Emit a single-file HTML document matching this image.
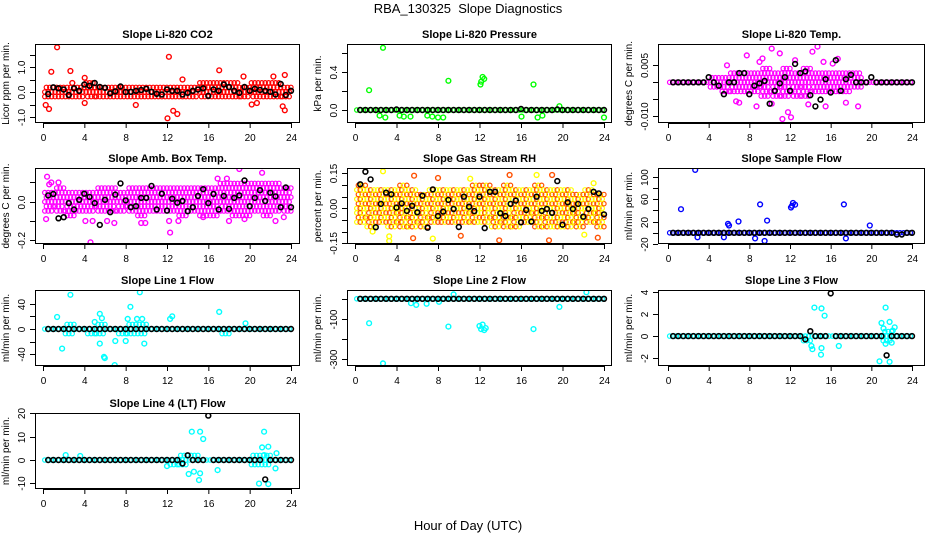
<!DOCTYPE html>
<html><head><meta charset="utf-8"><title>RBA_130325 Slope Diagnostics</title>
<style>
html,body{margin:0;padding:0;background:#fff;}
svg{display:block;font-family:"Liberation Sans",Arial,sans-serif;}
</style></head>
<body>
<svg id="chart" width="936" height="540" viewBox="0 0 936 540" xmlns="http://www.w3.org/2000/svg">
<rect width="936" height="540" fill="#fff"/>
<text x="468" y="13" font-size="13" text-anchor="middle">RBA_130325&#160; Slope Diagnostics</text>
<text x="468" y="530" font-size="13" text-anchor="middle">Hour of Day (UTC)</text>
<g id="panels"></g>
</svg>
<script>
// ---------- data ----------
const xTicks = [0,4,8,12,16,20,24];
const meanHours = Array.from({length:48},(_,i)=>0.5*(i+1));

const co2Mean = [-0.08,0.19,0.15,0.1,-0.12,0.15,0.05,0.3,0.25,0.36,0.2,0.17,-0.05,0.03,0.22,0.0,0.01,0.05,0.08,0.13,0.01,-0.07,-0.1,0.1,0.05,0.05,-0.1,-0.03,0.05,0.1,0.15,-0.15,0.1,0.05,0.3,0.2,0.05,-0.03,0.2,0.05,0.13,0.08,0.05,0.01,-0.1,0.32,-0.12,0.05];
const co2BandHi = [0.3,0.35,0.3,0.35,0.4,0.3,0.3,0.3,0.35,0.35,0.3,0.3,0.35,0.35,0.3,0.45,0.4,0.45,0.4,0.35,0.45,0.45,0.4,0.35];
const co2BandLo = [-0.3,-0.3,-0.35,-0.3,-0.3,-0.3,-0.3,-0.3,-0.3,-0.3,-0.3,-0.3,-0.35,-0.3,-0.3,-0.3,-0.3,-0.3,-0.3,-0.3,-0.3,-0.3,-0.3,-0.35];
const co2OutT = [1.36,0.8,0.26,0.58,2.65,2.84,4.04,4.04,8.98,12.18,12.05,12.6,13.0,13.5,17.05,19.4,20.2,20.7,22.3,23.4,23.4,23.2];
const co2OutV = [1.79,0.81,-0.52,-0.68,0.84,0.36,0.57,-0.44,-0.52,1.41,-1.05,-0.75,-0.88,0.5,0.87,0.62,-0.5,-0.44,0.62,0.68,-0.73,-0.57];

const pressMean = [0,0,0,0,0,0,0,0.005,0,0,0,0,0,0,0,0,0,0,0,0,0,0,0,0,0,0,0,0,0,0,0,0.01,0,0,0,0,0,0,0.005,0,0,0,0,0,0,0,0,0];
const pressBandHi = [0.02,0.02,0.02,0.02,0.02,0.02,0.02,0.02,0.02,0.02,0.02,0.02,0.02,0.02,0.02,0.02,0.02,0.02,0.02,0.03,0.02,0.02,0.02,0.02];
const pressBandLo = [-0.02,-0.02,-0.03,-0.02,-0.03,-0.03,-0.02,-0.03,-0.02,-0.02,-0.02,-0.02,-0.02,-0.02,-0.02,-0.02,-0.02,-0.03,-0.02,-0.02,-0.02,-0.02,-0.02,-0.02];
const pressOutT = [2.7,1.36,9.0,12.16,12.3,12.45,12.1,17.2,19.7,2.37,2.92,4.3,4.7,5.35,6.97,7.45,8.0,8.5,16.05,17.6,18.06,24.0];
const pressOutV = [0.66,0.21,0.31,0.30,0.35,0.33,0.27,0.27,0.04,-0.06,-0.08,-0.06,-0.07,-0.07,-0.06,-0.07,-0.08,-0.08,-0.07,-0.08,-0.06,-0.08];

const tempMean = [0,0,0,0,0,0,0,0.0015,0,-0.001,-0.0035,0,0,0.0027,0.0027,-0.0035,-0.001,-0.0003,0.0004,-0.0063,-0.0025,-0.0003,0.0015,-0.0025,0.0054,0.0027,0.0032,-0.0038,-0.0071,-0.0051,0.0009,-0.003,0.0065,-0.0025,0.0009,0.0022,0,0,0,0.0015,0,0,0,0,0,0,0,0];
const tempBandHi = [0.0005,0.0008,0.001,0.001,0.002,0.0025,0.003,0.004,0.004,0.0045,0.004,0.005,0.004,0.0045,0.004,0.004,0.0035,0.003,0.003,0.001,0.001,0.0008,0.0006,0.0005];
const tempBandLo = [-0.0005,-0.001,-0.001,-0.0012,-0.002,-0.003,-0.003,-0.004,-0.004,-0.0045,-0.0045,-0.005,-0.0045,-0.0045,-0.004,-0.004,-0.0035,-0.003,-0.0025,-0.001,-0.001,-0.0008,-0.0006,-0.0005];
const tempOutT = [7.75,10.2,11.0,14.2,14.7,16.7,8.7,10.2,11.25,11.8,12.1,15.5,18.7,6.7,9.3,12.5,15.3,16.2,5.8,13.8,17.5,7.0,9.0];
const tempOutV = [0.0079,0.0099,0.0085,0.009,0.0105,0.0069,-0.0071,-0.0063,-0.0108,-0.0088,-0.0103,-0.0071,-0.0071,-0.0056,0.007,0.0065,0.006,0.0055,0.005,-0.0065,-0.006,-0.006,0.006];

const ambMean = [0.033,0.04,-0.086,-0.08,-0.007,-0.04,0.01,0.042,0.025,-0.007,-0.12,0.01,-0.054,0.037,0.095,0.007,-0.028,-0.023,0.02,0.02,0.082,-0.04,0.042,-0.046,0.016,-0.005,0.004,-0.049,-0.028,0.03,0.065,-0.007,0.04,-0.04,0.03,-0.037,0.02,0.033,0.11,-0.023,0.02,0.06,0.004,0.047,0.028,-0.028,0.074,-0.028];
const ambBandHi = [0.07,0.08,0.06,0.07,0.07,0.08,0.08,0.07,0.08,0.08,0.08,0.08,0.08,0.09,0.09,0.09,0.09,0.1,0.1,0.1,0.1,0.1,0.1,0.09];
const ambBandLo = [-0.06,-0.06,-0.08,-0.06,-0.07,-0.07,-0.07,-0.07,-0.07,-0.08,-0.07,-0.07,-0.07,-0.08,-0.07,-0.08,-0.08,-0.07,-0.08,-0.08,-0.07,-0.08,-0.07,-0.07];
const ambOutT = [0.4,0.6,0.8,1.5,0.3,4.6,4.8,6.2,6.9,9.5,9.9,12.3,12.2,13.1,16.9,17.8,18.0,19.5,21.2,22.5,23.3,15.5,4.1,19.0];
const ambOutV = [0.13,0.09,0.1,0.1,-0.09,-0.21,-0.1,-0.1,-0.11,-0.11,-0.11,-0.16,-0.1,-0.1,0.12,0.12,-0.1,-0.09,0.15,-0.1,-0.08,-0.08,-0.1,0.17];

const rhMean = [0.103,0.157,0.124,-0.081,0.019,0.067,0.06,0.003,0.021,-0.011,0.011,-0.017,0.054,-0.083,0.081,-0.033,-0.014,0.036,-0.003,-0.08,0.05,0.007,-0.012,0.05,-0.085,0.071,0.071,-0.021,-0.033,0.019,0.033,-0.06,-0.007,-0.057,0.05,-0.011,-0.003,-0.019,0.117,-0.07,0.026,-0.003,0.019,-0.036,-0.003,0.071,0.064,-0.026];
const rhBandHi = [0.1,0.09,0.08,0.09,0.1,0.08,0.07,0.09,0.08,0.08,0.08,0.1,0.1,0.08,0.1,0.09,0.08,0.1,0.09,0.08,0.09,0.07,0.09,0.07];
const rhBandLo = [-0.07,-0.08,-0.07,-0.08,-0.09,-0.08,-0.08,-0.06,-0.07,-0.07,-0.06,-0.07,-0.07,-0.09,-0.08,-0.08,-0.07,-0.08,-0.09,-0.08,-0.08,-0.09,-0.07,-0.08];
const rhOutT = [2.7,5.7,3.3,8.0,11.1,14.9,17.5,19.0,23.0,10.2,7.5,13.9,3.3,5.6,1.7,18.7,22.1,23.4];
const rhOutV = [0.159,0.14,-0.14,0.13,0.127,0.143,0.143,0.143,0.108,-0.118,-0.13,-0.137,-0.12,-0.128,-0.1,-0.137,-0.113,-0.126];

const sampleMean = [0,0,0,0,0,0,0,0,0,0,0,0,0,0,0,0,0,0,0,0,0,0,0,0,0,0,0,0,0,0,0,0,0,0,0,0,0,0,0,0,0,0,0,0,-3,-3,0,0];
const sampleBandHi = [3,4,5,4,6,7,6,5,5,6,4,3,3,3,3,3,3,3,3,3,3,3,4,3];
const sampleBandLo = [-2,-3,-8,-5,-8,-8,-5,-6,-8,-8,-4,-3,-3,-2,-2,-2,-2,-5,-6,-2,-2,-2,-3,-2];
const sampleOutT = [2.68,1.28,9.06,9.75,6.93,12.1,12.3,12.5,12.2,17.3,19.85,9.5,8.57,5.5,2.9,5.9,6.0,17.5];
const sampleOutV = [112,42,50.6,21.6,20,45,53,50,48,50.6,13,-14.7,-10,-8,-8,16,13,-10];

const line1Mean = new Array(48).fill(0);
const line1BandHi = [3,5,8,5,6,8,6,5,8,8,6,4,6,4,3,3,3,3,3,3,3,3,3,3];
const line1BandLo = [-3,-5,-8,-5,-8,-8,-6,-8,-8,-8,-5,-4,-3,-3,-3,-3,-3,-8,-5,-3,-3,-3,-3,-3];
const line1OutT = [2.65,9.37,6.94,5.98,5.9,5.5,1.85,5.5,1.36,5.7,8.46,9.8,7.0,8.0,12.3,12.5,17.05,19.6,5.0,8.2,9.1,9.6];
const line1OutV = [54,58,-57,-46,-44,-23,-31,24,19,17,35,-23,-19,-19,16,20,27,9,11,16,16,16];

const line2Mean = new Array(48).fill(0);
const line2BandHi = [5,5,5,5,5,8,5,5,8,8,5,5,5,5,5,5,5,5,5,5,5,8,8,5];
const line2BandLo = [-5,-5,-5,-5,-8,-8,-8,-8,-5,-8,-5,-5,-5,-5,-5,-5,-5,-5,-5,-5,-5,-8,-8,-5];
const line2OutT = [1.36,2.7,9.0,12.0,12.3,12.45,12.15,12.6,17.2,19.7,22.3,5.9,5.4,6.9,8.1,9.5];
const line2OutV = [-121,-320,-138,-135,-128,-155,-150,-145,-150,-40,32,-30,-22,-25,-15,22];

const line3Mean = [0,0,0,0,0,0,0,0,0,0,0,0,0,0,0,0,0,0,0,0,0,0,0,0,0,0,-0.3,0.45,0,0,0,3.9,0,0,0,0,0,0,0,0,0,0,-1.75,0,0,0,0,0];
const line3BandHi = [0.1,0.2,0.35,0.35,0.2,0.3,0.2,0.2,0.3,0.4,0.2,0.2,0.3,0.4,0.3,0.3,0.4,0.4,0.2,0.2,0.4,0.6,0.4,0.1];
const line3BandLo = [-0.1,-0.2,-0.2,-0.2,-0.2,-0.3,-0.3,-0.2,-0.2,-0.2,-0.2,-0.2,-0.4,-0.6,-0.3,-0.2,-0.4,-0.3,-0.2,-0.2,-0.3,-0.6,-0.4,-0.1];
const line3OutT = [14.4,15.1,15.4,14.1,14.2,15.05,15.1,16.8,20.8,21.8,21.4,21.8,21.0,21.2,21.4,22.1,22.3,22.0];
const line3OutV = [2.6,2.53,1.86,-0.9,-1.2,-1.7,-1.1,-0.9,-2.3,-2.35,2.6,1.3,1.2,0.7,-0.7,0.5,0.8,-0.6];

const line4Mean = [0,0,0,0,0,0,0,0,0,0,0,0,0,0,0,0,0,0,0,0,0,0,0,0,0,0,-1.5,2,0,0,0,19,0,0,0,0,0,0,0,0,0,0,-8.3,0,0,0,0,0];
const line4BandHi = [0.5,0.5,1,0.5,0.8,0.5,0.5,0.5,0.5,0.5,0.5,0.5,1,2,2,1.5,1.5,1.5,0.5,0.5,2,2,1.5,0.5];
const line4BandLo = [-0.5,-0.5,-1,-1,-1,-0.5,-0.5,-0.5,-0.5,-0.5,-0.5,-0.5,-2,-2,-1.5,-1.5,-1.5,-1,-0.5,-1,-2,-2,-1.5,-0.5];
const line4OutT = [14.4,15.2,15.5,14.1,14.6,15.1,15.2,16.9,20.9,21.8,21.4,21.2,21.8,21.4,22.6,22.5,12.0,2.2,3.6];
const line4OutV = [12.1,12.1,9,-6,-5,-8.6,-5.7,-4.3,-10.1,-10.3,12.1,5.4,5.7,2.1,2.9,-3.6,-2.6,2.1,1.7];

// ---------- layout ----------
const cols = [{l:35,r:300,x0:43,x24:291,tl:25,yl:9},{l:347,r:612,x0:355,x24:604,tl:337,yl:321},{l:658,r:925,x0:668,x24:912,tl:648,yl:632}];
const rows = [{t:44,b:123},{t:168,b:244},{t:290,b:366},{t:413,b:489}];

const panels = [
 {name:'co2',title:'Slope Li-820 CO2',ylab:'Licor ppm per min.',c:0,r:0,ylim:[-1.24,1.92],ticks:[-1,-0.5,0,0.5,1,1.5],labels:{'-1':'-1.0','0':'0.0','1':'1.0'},color:'#ff0000',mean:co2Mean,hi:co2BandHi,lo:co2BandLo,ot:co2OutT,ov:co2OutV},
 {name:'pressure',title:'Slope Li-820 Pressure',ylab:'kPa per min.',c:1,r:0,ylim:[-0.138,0.70],ticks:[0,0.2,0.4,0.6],labels:{'0':'0.0','0.4':'0.4'},color:'#00ff00',mean:pressMean,hi:pressBandHi,lo:pressBandLo,ot:pressOutT,ov:pressOutV},
 {name:'temp',title:'Slope Li-820 Temp.',ylab:'degrees C per min.',c:2,r:0,ylim:[-0.01197,0.01126],ticks:[-0.01,-0.005,0,0.005],labels:{'-0.01':'-0.010','0.005':'0.005'},color:'#ff00ff',mean:tempMean,hi:tempBandHi,lo:tempBandLo,ot:tempOutT,ov:tempOutV},
 {name:'amb-box-temp',title:'Slope Amb. Box Temp.',ylab:'degrees C per min.',c:0,r:1,ylim:[-0.219,0.175],ticks:[-0.2,-0.1,0,0.1],labels:{'-0.2':'-0.2','0':'0.0'},color:'#ff00ff',mean:ambMean,hi:ambBandHi,lo:ambBandLo,ot:ambOutT,ov:ambOutV},
 {name:'gas-stream-rh',title:'Slope Gas Stream RH',ylab:'percent per min.',c:1,r:1,ylim:[-0.153,0.173],ticks:[-0.15,-0.1,-0.05,0,0.05,0.1,0.15],labels:{'-0.15':'-0.15','0':'0.00','0.15':'0.15'},color:'#ffff00',color2:'#ff5000',mean:rhMean,hi:rhBandHi,lo:rhBandLo,ot:rhOutT,ov:rhOutV},
 {name:'sample-flow',title:'Slope Sample Flow',ylab:'ml/min per min.',c:2,r:1,ylim:[-20,115.4],ticks:[-20,0,20,40,60,80,100],labels:{'-20':'-20','20':'20','60':'60','100':'100'},color:'#0000ff',mean:sampleMean,hi:sampleBandHi,lo:sampleBandLo,ot:sampleOutT,ov:sampleOutV},
 {name:'line-1-flow',title:'Slope Line 1 Flow',ylab:'ml/min per min.',c:0,r:2,ylim:[-58.4,61.6],ticks:[-40,-20,0,20,40],labels:{'-40':'-40','0':'0','40':'40'},color:'#00ffff',mean:line1Mean,hi:line1BandHi,lo:line1BandLo,ot:line1OutT,ov:line1OutV},
 {name:'line-2-flow',title:'Slope Line 2 Flow',ylab:'ml/min per min.',c:1,r:2,ylim:[-333,43.6],ticks:[-300,-200,-100,0],labels:{'-300':'-300','-100':'-100'},color:'#00ffff',mean:line2Mean,hi:line2BandHi,lo:line2BandLo,ot:line2OutT,ov:line2OutV},
 {name:'line-3-flow',title:'Slope Line 3 Flow',ylab:'ml/min per min.',c:2,r:2,ylim:[-2.73,4.21],ticks:[-2,0,2,4],labels:{'-2':'-2','0':'0','2':'2','4':'4'},color:'#00ffff',mean:line3Mean,hi:line3BandHi,lo:line3BandLo,ot:line3OutT,ov:line3OutV},
 {name:'line-4-flow',title:'Slope Line 4 (LT) Flow',ylab:'ml/min per min.',c:0,r:3,ylim:[-12.4,20.1],ticks:[-10,0,10,20],labels:{'-10':'-10','0':'0','10':'10','20':'20'},color:'#00ffff',mean:line4Mean,hi:line4BandHi,lo:line4BandLo,ot:line4OutT,ov:line4OutV}
];

const NS='http://www.w3.org/2000/svg';
function mk(tag, attrs, parent){const e=document.createElementNS(NS,tag);for(const k in attrs)e.setAttribute(k,attrs[k]);parent.appendChild(e);return e;}
const root=document.getElementById('panels');

panels.forEach(p=>{
  const C=cols[p.c], R=rows[p.r];
  const xs=h=>C.x0+(C.x24-C.x0)*h/24;
  const ys=v=>R.b-(v-p.ylim[0])/(p.ylim[1]-p.ylim[0])*(R.b-R.t);
  const g=mk('g',{},root);
  
  
  const ttl=mk('text',{x:(C.l+C.r)/2,y:R.t-6,'font-size':11,'font-weight':'bold','text-anchor':'middle'},g);
  ttl.textContent=p.title;
  
  
  const cid='clip-'+p.name;
  const cp=mk('clipPath',{id:cid},g); mk('rect',{x:C.l,y:R.t,width:C.r-C.l,height:R.b-R.t},cp);
  const pts=mk('g',{'clip-path':'url(#'+cid+')',fill:'none','stroke-width':1.2},g);
  
  
  // dense band (speckled)
  for(let h=0;h<24;h++){
    const yTop=ys(p.hi[h]), yBot=ys(p.lo[h]);
    const y0=ys(0);
    let rowsY=[];
    for(let y=y0;y>=yTop-0.1;y-=4.6) rowsY.push(y);
    for(let y=y0+4.6;y<=yBot+0.1;y+=4.6) rowsY.push(y);
    rowsY.forEach((y,ri)=>{
      const n=3;
      for(let q=0;q<n;q++){
        const hx=h+0.17+q*0.33+(ri%2?0.16:0);
        if(hx>24.05) continue;
        const col=(p.color2 && (ri+q)%2)?p.color2:p.color;
        const c=mk('circle',{cx:xs(hx).toFixed(1),cy:y.toFixed(1),r:2.2,stroke:col},pts);
        
        
      }
    });
  }
  p.ot.forEach((t,i)=>{
    const c=mk('circle',{cx:xs(t).toFixed(1),cy:ys(p.ov[i]).toFixed(1),r:2.4,stroke:p.color2?(i%2?p.color2:p.color):p.color,'stroke-width':1.4},pts);
    
    
  });
  p.mean.forEach((v,i)=>{
    const c=mk('circle',{cx:xs(meanHours[i]).toFixed(1),cy:ys(v).toFixed(1),r:2.4,stroke:'#000','stroke-width':1.6},pts);
    
    
  });
  const bx=mk('rect',{x:C.l+0.5,y:R.t+0.5,width:C.r-C.l-1,height:R.b-R.t-1,fill:'none',stroke:'#000','stroke-width':1},g);
  
  
  const xa=mk('g',{'font-size':10,'text-anchor':'middle'},g);
  
  
  mk('line',{x1:xs(0),x2:xs(24),y1:R.b+0.5,y2:R.b+0.5,stroke:'#000'},xa);
  xTicks.forEach(t=>{
    mk('line',{x1:xs(t)+0.5,x2:xs(t)+0.5,y1:R.b,y2:R.b+5,stroke:'#000'},xa);
    const tx=mk('text',{x:xs(t)+0.5,y:R.b+18},xa); tx.textContent=String(t);
  });
  const ya=mk('g',{'font-size':10,'text-anchor':'middle'},g);
  
  
  const tv=p.ticks;
  mk('line',{x1:C.l+0.5,x2:C.l+0.5,y1:ys(tv[0]),y2:ys(tv[tv.length-1]),stroke:'#000'},ya);
  tv.forEach(v=>{
    const y=Math.round(ys(v))+0.5;
    mk('line',{x1:C.l-5,x2:C.l,y1:y,y2:y,stroke:'#000'},ya);
    const lab=p.labels[String(v)];
    if(lab!==undefined){
      const tx=mk('text',{x:C.tl,y:y,transform:'rotate(-90 '+(C.tl)+' '+y+')'},ya);
      tx.textContent=lab;
    }
  });
  const yl=mk('text',{x:C.yl,y:(R.t+R.b)/2,'font-size':10,'text-anchor':'middle',transform:'rotate(-90 '+C.yl+' '+((R.t+R.b)/2)+')'},g);
  yl.textContent=p.ylab;
  
  
});
</script>
</body></html>
